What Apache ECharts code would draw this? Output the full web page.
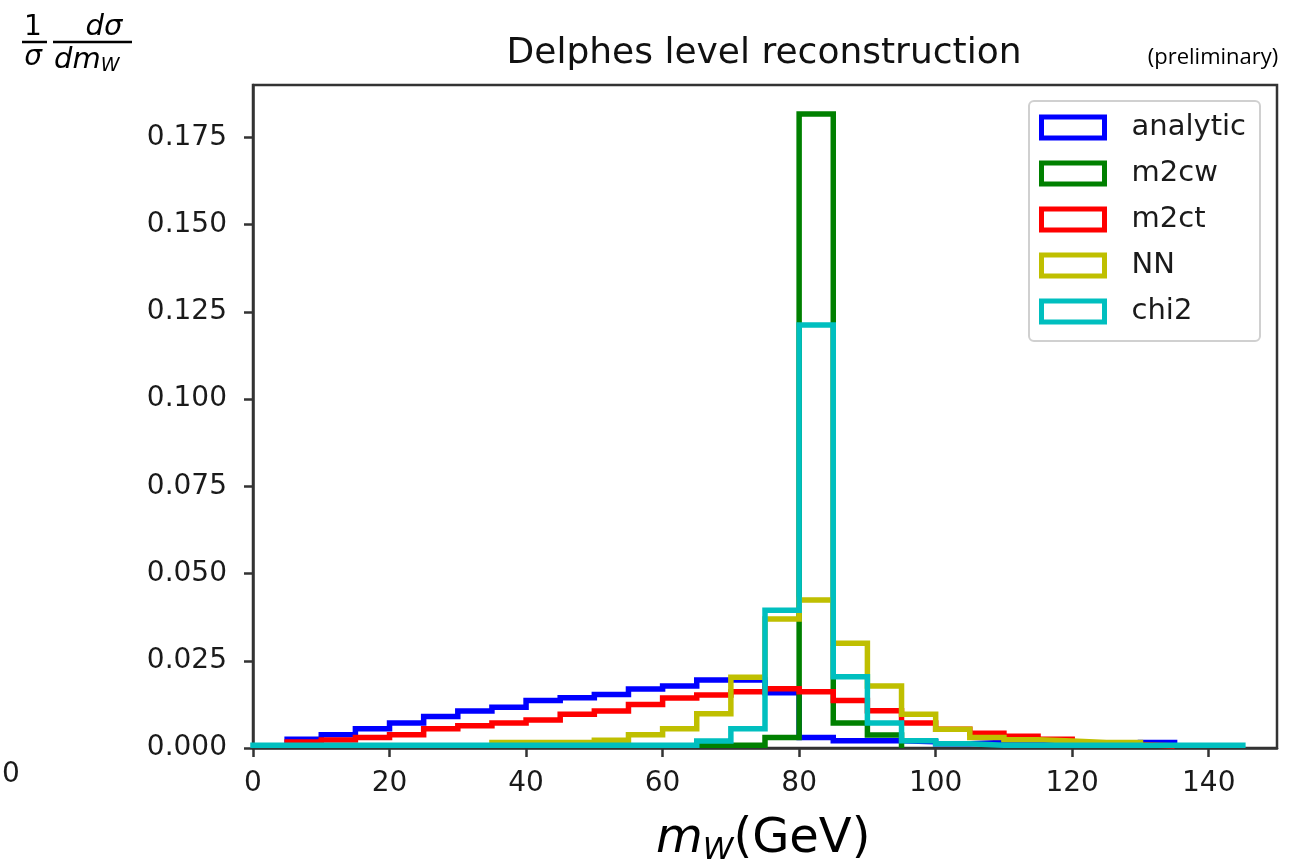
<!DOCTYPE html>
<html>
<head>
<meta charset="utf-8">
<script src="https://cdn.jsdelivr.net/npm/echarts@6/dist/echarts.min.js"></script>
<style>
html,body{margin:0;padding:0;background:#fff;}
#chart{width:1291px;height:863px;}
</style>
</head>
<body>
<div id="chart"></div>
<script>
// Histograms: bin width 5; each series has its own first bin edge
const binWidth = 5;
const seriesNames = ['analytic','m2cw','m2ct','NN','chi2'];
const seriesColors = ['#0000ff','#008000','#ff0000','#bfbf00','#00bfbf'];

// analytic: bins 5..135
const analyticStart = 5;
const analytic = [0.0025,0.0038,0.0055,0.0072,0.0090,0.0106,0.0117,0.0136,0.0144,0.0153,0.0169,0.0178,0.0195,0.0195,0.0158,0.0030,0.0021,0.0021,0.0018,0.0012,0.0016,0.0010,0.0010,0.0010,0.0010,0.0016];
// m2cw: bins 65..95
const m2cwStart = 65;
const m2cw = [0.0008,0.0008,0.0030,0.1817,0.0072,0.0037];
// m2ct: bins 5..135
const m2ctStart = 5;
const m2ct = [0.0017,0.0023,0.0030,0.0038,0.0055,0.0064,0.0072,0.0080,0.0097,0.0106,0.0125,0.0143,0.0152,0.0161,0.0170,0.0161,0.0136,0.0107,0.0072,0.0054,0.0042,0.0034,0.0025,0.0013,0.0010,0.0006];
// NN: bins 35..130
const NNStart = 35;
const NN = [0.0016,0.0016,0.0016,0.0022,0.0038,0.0055,0.0098,0.0203,0.0370,0.0424,0.0300,0.0178,0.0097,0.0054,0.0030,0.0024,0.0020,0.0016,0.0016];
// chi2: bins 0..145
const chi2Start = 0;
const chi2 = [0.0008,0.0008,0.0008,0.0008,0.0008,0.0008,0.0008,0.0008,0.0008,0.0008,0.0008,0.0008,0.0008,0.0020,0.0055,0.0395,0.1212,0.0204,0.0072,0.0021,0.0012,0.0008,0.0008,0.0008,0.0008,0.0008,0.0008,0.0008,0.0008];

const xTicks = [0,20,40,60,80,100,120,140];
const yTicks = [0,0.025,0.05,0.075,0.1,0.125,0.15,0.175];

const allValues = [analytic,m2cw,m2ct,NN,chi2];
const allStarts = [analyticStart,m2cwStart,m2ctStart,NNStart,chi2Start];

function stepOutline(start, vals){
  const pts = [[start,0]];
  for(let i=0;i<vals.length;i++){
    const l = start + i*binWidth, r = l + binWidth;
    pts.push([l,vals[i]]);
    pts.push([r,vals[i]]);
  }
  pts.push([start + vals.length*binWidth,0]);
  return pts;
}

const chart = echarts.init(document.getElementById('chart'), null, {renderer:'canvas'});
const FONT = 'DejaVu Sans';

const option = {
  animation:false,
  backgroundColor:'#ffffff',
  title:{
    text:'Delphes level reconstruction',
    left:759, top:31, textAlign:'center',
    textStyle:{fontFamily:FONT,fontSize:36,fontWeight:'normal',color:'#111'}
  },
  grid:{left:253,right:14,top:85,bottom:115,show:true,borderColor:'#333',borderWidth:2.5,backgroundColor:'transparent'},
  legend:{
    left:1029, top:101,
    orient:'vertical',
    selectedMode:false,
    backgroundColor:'#fff',
    borderColor:'#d0d0d0', borderWidth:2, borderRadius:5,
    padding:[12,14,15,10],
    itemWidth:63, itemHeight:21, itemGap:17,
    textStyle:{fontFamily:FONT,fontSize:29,color:'#1a1a1a',padding:[0,0,0,22]},
    data: seriesNames.map((n,i)=>({name:n,icon:'rect',itemStyle:{color:'#ffffff',borderColor:seriesColors[i],borderWidth:5}}))
  },
  xAxis:{
    type:'value', min:0, max:150, interval:20,
    axisLine:{show:true,onZero:false,lineStyle:{color:'#333',width:2.5}},
    axisTick:{show:true,length:9,lineStyle:{color:'#333',width:2.5},customValues:xTicks},
    axisLabel:{fontFamily:FONT,fontSize:28,color:'#1a1a1a',margin:22,customValues:xTicks,formatter:v=>String(v)},
    splitLine:{show:false}
  },
  yAxis:{
    type:'value', min:0, max:0.19, interval:0.025,
    axisLine:{show:true,onZero:false,lineStyle:{color:'#333',width:2.5}},
    axisTick:{show:true,length:9,lineStyle:{color:'#333',width:2.5},customValues:yTicks},
    axisLabel:{fontFamily:FONT,fontSize:28,color:'#1a1a1a',margin:26,customValues:yTicks,formatter:v=>v.toFixed(3)},
    splitLine:{show:false}
  },
  series: seriesNames.map((n,i)=>({
    name:n, type:'line', data:stepOutline(allStarts[i], allValues[i]),
    showSymbol:false, symbol:'none', clip:true,
    lineStyle:{color:seriesColors[i],width:5.5,join:'miter',cap:'butt'},
    itemStyle:{color:seriesColors[i]},
    emphasis:{disabled:true}, z:2+i
  })),
  graphic:[
    {type:'text',x:33,y:28,style:{text:'1',font:'28px "DejaVu Sans"',fill:'#000',textAlign:'center',textVerticalAlign:'middle'}},
    {type:'line',shape:{x1:22,y1:42,x2:47,y2:42},style:{stroke:'#000',lineWidth:2.5}},
    {type:'text',x:33,y:58,style:{text:'σ',font:'italic 28px "DejaVu Sans"',fill:'#000',textAlign:'center',textVerticalAlign:'middle'}},
    {type:'text',x:104,y:27,style:{text:'dσ',font:'italic 29px "DejaVu Sans"',fill:'#000',textAlign:'center',textVerticalAlign:'middle'}},
    {type:'line',shape:{x1:53,y1:42,x2:132,y2:42},style:{stroke:'#000',lineWidth:2.5}},
    {type:'text',x:54,y:46,style:{text:'{a|dm}{b|W}',textAlign:'left',textVerticalAlign:'top',
      rich:{a:{fontFamily:FONT,fontStyle:'italic',fontSize:29,lineHeight:30,verticalAlign:'top',fill:'#000'},
            b:{fontFamily:FONT,fontStyle:'italic',fontSize:19,lineHeight:19,padding:[11,0,0,0],verticalAlign:'top',fill:'#000'}}}},
    {type:'text',x:1213,y:58,style:{text:'(preliminary)',font:'22px "Open Sans"',fill:'#000',textAlign:'center',textVerticalAlign:'middle'}},
    {type:'text',x:2,y:775,style:{text:'0',font:'28px "DejaVu Sans"',fill:'#1a1a1a',textAlign:'left',textVerticalAlign:'middle'}},
    {type:'text',x:656,y:816,style:{text:'{m|m}{w|W}{g|(GeV)}',textAlign:'left',textVerticalAlign:'top',
      rich:{m:{fontFamily:FONT,fontStyle:'italic',fontSize:48,lineHeight:52,verticalAlign:'top',fill:'#000'},
            w:{fontFamily:FONT,fontStyle:'italic',fontSize:31,lineHeight:31,padding:[19,0,0,0],verticalAlign:'top',fill:'#000'},
            g:{fontFamily:FONT,fontSize:48,lineHeight:52,verticalAlign:'top',fill:'#000'}}}}
  ]
};
chart.setOption(option);
</script>
</body>
</html>
